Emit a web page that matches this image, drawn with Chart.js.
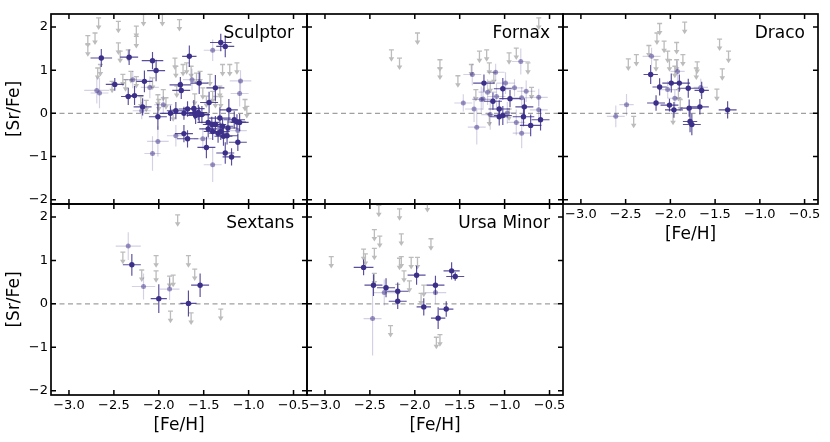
<!DOCTYPE html>
<html><head><meta charset="utf-8">
<script src="https://cdn.jsdelivr.net/npm/chart.js@4.4.1/dist/chart.umd.min.js"></script>
<style>
html,body{margin:0;padding:0;background:#fff;}
#wrap{position:relative;width:830px;height:442px;overflow:hidden;}
#wrap canvas{position:absolute;left:0;top:0;}
</style></head>
<body><div id="wrap"></div>
<script>
// ---------- data: [Fe/H], [Sr/Fe], xerr, yerr ----------
const sculptorDark = [
[-2.64,1.28,0.12,0.21],[-2.49,0.67,0.10,0.15],[-2.33,1.30,0.10,0.18],[-2.34,0.39,0.08,0.20],
[-2.27,0.41,0.10,0.22],[-2.18,0.15,0.10,0.20],[-2.16,0.74,0.09,0.25],[-2.07,1.22,0.12,0.20],
[-2.03,0.99,0.10,0.25],[-2.01,-0.08,0.10,0.30],[-1.87,0.00,0.12,0.18],[-1.81,0.06,0.10,0.20],
[-1.76,0.66,0.12,0.18],[-1.75,0.53,0.10,0.20],[-1.72,0.00,0.10,0.15],[-1.72,-0.47,0.10,0.20],
[-1.68,-0.59,0.12,0.20],[-1.68,0.10,0.10,0.18],[-1.66,1.32,0.08,0.25],[-1.61,0.11,0.12,0.20],
[-1.60,0.01,0.10,0.15],[-1.59,-0.05,0.10,0.20],[-1.55,0.70,0.10,0.25],[-1.55,-0.03,0.12,0.18],
[-1.52,-0.03,0.08,0.20],[-1.47,-0.79,0.10,0.25],[-1.45,-0.21,0.12,0.20],[-1.44,0.25,0.10,0.25],
[-1.45,-0.36,0.10,0.20],[-1.41,-0.26,0.10,0.18],[-1.37,0.59,0.10,0.30],[-1.37,-0.26,0.12,0.20],
[-1.34,-0.46,0.10,0.22],[-1.32,-0.11,0.12,0.25],[-1.31,-0.42,0.10,0.20],[-1.29,-0.30,0.12,0.18],
[-1.28,-0.53,0.10,0.22],[-1.26,-0.92,0.10,0.25],[-1.24,-0.52,0.12,0.20],[-1.22,0.08,0.10,0.25],
[-1.31,1.64,0.12,0.20],[-1.26,1.55,0.10,0.25],[-1.19,-1.01,0.10,0.20],[-1.16,-0.15,0.12,0.20],
[-1.13,-0.20,0.10,0.18],[-1.10,-0.21,0.10,0.20],[-1.12,-0.67,0.10,0.20],[-1.23,-0.34,0.10,0.18],
[-1.40,-0.42,0.10,0.20],[-1.56,0.02,0.10,0.18]
];
const sculptorLight = [
[-2.69,0.53,0.14,0.30],[-2.66,0.47,0.10,0.35],[-2.19,0.06,0.10,0.20],[-2.07,-0.93,0.09,0.40],
[-2.01,-0.65,0.12,0.35],[-1.81,-0.52,0.10,0.25],[-1.51,-0.59,0.10,0.25],[-1.40,-1.19,0.10,0.40],
[-1.40,1.46,0.10,0.25],[-1.10,0.46,0.10,0.30],[-1.09,0.75,0.12,0.25],[-1.12,-0.40,0.10,0.25],
[-2.29,0.78,0.10,0.20],[-1.63,0.78,0.10,0.25],[-2.10,0.60,0.10,0.25],[-1.95,0.20,0.10,0.20]
];
const sculptorLimits = [
[-2.67,2.21],[-2.71,1.86],[-2.79,1.80],[-2.79,1.59],[-2.45,2.13],[-2.45,1.63],[-2.43,1.44],
[-2.25,2.02],[-2.25,1.78],[-2.34,1.47],[-2.17,2.29],[-1.96,2.29],[-1.77,2.17],[-2.68,1.05],
[-2.65,1.13],[-2.52,0.74],[-2.37,0.78],[-2.31,0.97],[-2.25,0.85],[-2.07,0.82],[-2.01,0.43],
[-2.00,0.32],[-1.92,0.36],[-1.82,1.28],[-1.81,1.09],[-1.80,0.63],[-1.73,1.13],[-1.69,1.17],
[-1.64,1.09],[-1.58,0.93],[-1.54,0.97],[-1.51,0.59],[-1.43,0.90],[-1.40,0.51],[-1.37,0.39],
[-1.32,0.63],[-1.31,0.39],[-1.29,1.13],[-1.21,1.13],[-1.13,1.17],[-1.02,0.16],[-1.04,0.32],
[-1.84,0.08],[-2.20,0.39],[-2.14,0.30],[-2.40,0.90],[-1.95,0.55],[-1.60,0.45],[-1.47,0.40]
];
const fornaxDark = [
[-1.23,0.70,0.12,0.20],[-1.13,0.28,0.10,0.20],[-1.02,0.57,0.10,0.25],[-0.94,0.34,0.12,0.20],
[-1.06,0.10,0.12,0.20],[-1.02,-0.05,0.10,0.22],[-1.06,-0.08,0.10,0.20],[-0.78,0.15,0.10,0.20],
[-0.79,-0.08,0.12,0.22],[-0.71,-0.28,0.12,0.25],[-0.60,-0.15,0.10,0.25]
];
const fornaxLight = [
[-1.36,0.90,0.10,0.25],[-1.46,0.24,0.10,0.20],[-1.31,-0.32,0.10,0.40],[-1.34,0.10,0.10,0.30],
[-1.24,0.33,0.12,0.25],[-1.19,0.49,0.10,0.30],[-1.10,0.95,0.10,0.20],[-1.09,0.39,0.10,0.30],
[-1.16,-0.03,0.10,0.35],[-0.99,0.70,0.10,0.25],[-0.89,0.59,0.10,0.20],[-0.87,-0.21,0.10,0.30],
[-0.82,1.20,0.10,0.30],[-0.81,0.36,0.10,0.25],[-0.81,-0.46,0.10,0.35],[-0.76,0.51,0.10,0.25],
[-0.62,0.37,0.10,0.20],[-0.62,0.08,0.10,0.30],[-0.97,0.01,0.10,0.25],[-1.26,0.32,0.10,0.30]
];
const fornaxLimits = [
[-2.26,1.47],[-2.17,1.28],[-1.97,1.86],[-1.72,1.24],[-1.72,1.05],[-1.52,0.87],[-1.37,1.13],
[-1.32,0.55],[-1.28,1.44],[-1.20,1.47],[-1.17,1.17],[-1.16,0.74],[-1.12,0.95],[-0.95,1.40],
[-0.87,1.51],[-0.74,1.17],[-0.62,2.21],[-1.17,-0.03],[-0.95,0.10],[-0.70,0.60]
];
const dracoDark = [
[-2.22,0.90,0.08,0.22],[-2.12,0.61,0.08,0.20],[-2.16,0.24,0.10,0.18],[-2.01,0.19,0.10,0.15],
[-1.99,0.70,0.10,0.22],[-1.96,0.08,0.10,0.18],[-1.90,0.70,0.12,0.20],[-1.80,0.58,0.12,0.22],
[-1.79,0.12,0.10,0.20],[-1.65,0.53,0.08,0.20],[-1.67,0.15,0.10,0.18],[-1.78,-0.19,0.08,0.25],
[-1.76,-0.26,0.10,0.25],[-1.36,0.08,0.10,0.20]
];
const dracoLight = [
[-2.61,-0.07,0.10,0.25],[-2.49,0.20,0.08,0.25],[-2.21,1.32,0.10,0.20],[-2.03,0.55,0.10,0.20],
[-1.92,0.97,0.08,0.25],[-1.95,0.35,0.08,0.20],[-1.66,0.60,0.08,0.20]
];
const dracoLimits = [
[-2.12,2.08],[-2.15,1.86],[-1.84,2.11],[-2.24,1.57],[-2.07,1.67],[-1.93,1.64],[-2.47,1.26],
[-2.38,1.36],[-2.16,1.24],[-2.03,1.44],[-2.01,1.24],[-1.93,1.24],[-1.86,1.36],[-1.95,1.09],
[-1.70,1.19],[-1.71,1.05],[-1.45,1.72],[-1.35,1.44],[-1.42,1.03],[-1.48,0.56],[-1.91,0.55],
[-1.89,0.32],[-2.41,-0.07],[-1.97,0.00]
];
const sextansDark = [
[-2.30,0.90,0.10,0.25],[-2.00,0.12,0.09,0.33],[-1.67,0.01,0.09,0.30],[-1.54,0.43,0.10,0.27]
];
const sextansLight = [
[-2.34,1.33,0.14,0.32],[-2.17,0.40,0.13,0.30],[-1.88,0.34,0.11,0.25]
];
const sextansLimits = [
[-2.40,1.19],[-2.19,0.78],[-2.03,1.11],[-2.03,0.76],[-1.88,0.64],[-1.84,0.66],[-1.79,2.05],
[-1.67,1.11],[-1.60,0.80],[-1.87,-0.17],[-1.64,-0.21],[-1.31,-0.12]
];
const ursaMinorDark = [
[-2.57,0.84,0.11,0.18],[-2.46,0.43,0.10,0.25],[-2.32,0.37,0.10,0.22],[-2.19,0.29,0.12,0.20],
[-2.19,0.06,0.10,0.18],[-1.98,0.66,0.10,0.22],[-1.90,-0.07,0.08,0.20],[-1.77,0.43,0.10,0.22],
[-1.74,-0.33,0.08,0.25],[-1.65,-0.12,0.08,0.18],[-1.59,0.76,0.09,0.20],[-1.55,0.63,0.10,0.10]
];
const ursaMinorLight = [
[-2.47,-0.34,0.10,0.85],[-2.34,0.26,0.12,0.30],[-1.77,0.26,0.12,0.25]
];
const ursaMinorLimits = [
[-2.40,2.27],[-2.17,2.19],[-2.45,1.71],[-2.39,1.56],[-2.15,1.61],[-1.82,1.50],[-2.93,1.09],
[-2.57,1.26],[-2.55,1.15],[-2.45,1.28],[-2.17,1.05],[-2.15,1.09],[-2.04,1.07],[-1.97,1.07],
[-2.12,0.76],[-2.06,0.53],[-1.90,0.43],[-1.93,0.24],[-2.27,-0.50],[-1.76,-0.77],[-1.72,-0.71],
[-2.19,0.45],[-2.45,0.70],[-1.86,2.38]
];
const xTickValues = [-3.0,-2.5,-2.0,-1.5,-1.0,-0.5];
const yTickValues = [-2,-1,0,1,2];
const xRange = [-3.2,-0.35];
const yRange = [-2.1,2.3];

// ---------- styling / layout ----------
Chart.defaults.font.family = "'DejaVu Sans', sans-serif";
Chart.defaults.color = '#000';
const DARK = 'rgb(59,47,138)';
const DARK_BAR = 'rgba(59,47,138,0.85)';
const LIGHT = 'rgba(59,47,138,0.5)';
const LIGHT_BAR = 'rgba(59,47,138,0.22)';
const GREY = '#bcbcbc';
const WY = 51, HX = 43;

const panels = [
  {name:'Sculptor',   L:51,  T:14,  R:307, B:204, showX:false, showY:true,  d:[sculptorDark, sculptorLight, sculptorLimits]},
  {name:'Fornax',     L:307, T:14,  R:563, B:204, showX:false, showY:false, d:[fornaxDark, fornaxLight, fornaxLimits]},
  {name:'Draco',      L:563, T:14,  R:818, B:204, showX:true,  showY:false, d:[dracoDark, dracoLight, dracoLimits]},
  {name:'Sextans',    L:51,  T:204, R:307, B:395, showX:true,  showY:true,  d:[sextansDark, sextansLight, sextansLimits]},
  {name:'Ursa Minor', L:307, T:204, R:563, B:395, showX:true,  showY:false, d:[ursaMinorDark, ursaMinorLight, ursaMinorLimits]}
];

const panelPlugin = {
  id: 'panel',
  beforeDatasetsDraw(chart) {
    const {ctx, chartArea: a, scales: {y}} = chart;
    const y0 = y.getPixelForValue(0);
    ctx.save();
    ctx.strokeStyle = '#a0a0a0'; ctx.lineWidth = 1.3; ctx.setLineDash([5, 3.5]);
    ctx.beginPath(); ctx.moveTo(a.left, y0); ctx.lineTo(a.right, y0); ctx.stroke();
    ctx.restore();
  },
  beforeDatasetDraw(chart, args) {
    const ds = chart.data.datasets[args.index];
    const {ctx, chartArea: a, scales: {x, y}} = chart;
    ctx.save();
    ctx.beginPath(); ctx.rect(a.left, a.top, a.right - a.left, a.bottom - a.top); ctx.clip();
    if (ds.kind === 'limit') {
      ctx.strokeStyle = GREY; ctx.fillStyle = GREY; ctx.lineWidth = 1.3;
      ds.data.forEach(p => {
        const px = x.getPixelForValue(p.x), py = y.getPixelForValue(p.y);
        const L = 12;
        ctx.beginPath();
        ctx.moveTo(px - 2.5, py); ctx.lineTo(px + 2.5, py);
        ctx.moveTo(px, py); ctx.lineTo(px, py + L - 3);
        ctx.stroke();
        ctx.beginPath();
        ctx.moveTo(px - 2.8, py + L - 4.5); ctx.lineTo(px + 2.8, py + L - 4.5); ctx.lineTo(px, py + L);
        ctx.closePath(); ctx.fill();
      });
    } else {
      ctx.strokeStyle = ds.barColor; ctx.lineWidth = 1.15;
      ds.data.forEach((p, i) => {
        const px = x.getPixelForValue(p.x), py = y.getPixelForValue(p.y);
        const x1 = x.getPixelForValue(p.x - ds.xerr[i]), x2 = x.getPixelForValue(p.x + ds.xerr[i]);
        const y1 = y.getPixelForValue(p.y - ds.yerr[i]), y2 = y.getPixelForValue(p.y + ds.yerr[i]);
        ctx.beginPath();
        ctx.moveTo(x1, py); ctx.lineTo(x2, py);
        ctx.moveTo(px, y1); ctx.lineTo(px, y2);
        ctx.stroke();
      });
    }
    ctx.restore();
  },
  afterDraw(chart, args, opts) {
    const {ctx, chartArea: a, scales: {x, y}} = chart;
    ctx.save();
    ctx.strokeStyle = '#000'; ctx.lineWidth = 1.5;
    ctx.beginPath();
    xTickValues.forEach(v => {
      const px = x.getPixelForValue(v);
      ctx.moveTo(px, a.top); ctx.lineTo(px, a.top + 5);
      ctx.moveTo(px, a.bottom); ctx.lineTo(px, a.bottom - 5);
    });
    yTickValues.forEach(v => {
      const py = y.getPixelForValue(v);
      ctx.moveTo(a.left, py); ctx.lineTo(a.left + 5, py);
      ctx.moveTo(a.right, py); ctx.lineTo(a.right - 5, py);
    });
    ctx.stroke();
    ctx.lineWidth = 1.7;
    ctx.strokeRect(a.left, a.top, a.right - a.left, a.bottom - a.top);
    ctx.fillStyle = '#000';
    ctx.font = "17px 'DejaVu Sans'";
    ctx.textAlign = 'right'; ctx.textBaseline = 'alphabetic';
    ctx.fillText(opts.name, a.right - 13, a.top + 24);
    ctx.restore();
  }
};

const wrap = document.getElementById('wrap');
const toPts = arr => arr.map(d => ({x: d[0], y: d[1]}));
const minus = s => String(s).replace('-', '\u2212');

panels.forEach(p => {
  const cv = document.createElement('canvas');
  cv.width = 830; cv.height = 442;
  cv.style.width = '830px'; cv.style.height = '442px';
  wrap.appendChild(cv);
  const [dark, light, lim] = p.d;
  new Chart(cv, {
    type: 'scatter',
    data: {datasets: [
      {kind: 'dark', data: toPts(dark), xerr: dark.map(d => d[2]), yerr: dark.map(d => d[3]),
       barColor: DARK_BAR, pointRadius: 2.7, backgroundColor: DARK, borderWidth: 0, pointHoverRadius: 2.7},
      {kind: 'light', data: toPts(light), xerr: light.map(d => d[2]), yerr: light.map(d => d[3]),
       barColor: LIGHT_BAR, pointRadius: 2.5, backgroundColor: LIGHT, borderWidth: 0, pointHoverRadius: 2.5},
      {kind: 'limit', data: toPts(lim), pointRadius: 0, pointHoverRadius: 0}
    ]},
    options: {
      responsive: false, animation: false, events: [],
      devicePixelRatio: 1,
      layout: {padding: {
        left: p.L - (p.showY ? WY : 0), right: 830 - p.R,
        top: p.T, bottom: 442 - p.B - (p.showX ? HX : 0)}},
      plugins: {legend: {display: false}, tooltip: {enabled: false}, panel: {name: p.name}},
      scales: {
        x: {
          type: 'linear', min: xRange[0], max: xRange[1], display: p.showX,
          afterFit: s => { s.height = p.showX ? HX : 0; },
          afterBuildTicks: s => { s.ticks = xTickValues.map(v => ({value: v})); },
          grid: {display: false, drawTicks: false}, border: {display: false},
          ticks: {padding: 3, font: {size: 13}, color: '#000', maxRotation: 0, autoSkip: false,
                  callback: v => minus(Number(v).toFixed(1))},
          title: {display: true, text: '[Fe/H]', font: {size: 17}, color: '#000', padding: {top: 0, bottom: 2}}
        },
        y: {
          type: 'linear', min: yRange[0], max: yRange[1], display: p.showY,
          afterFit: s => { s.width = p.showY ? WY : 0; },
          afterBuildTicks: s => { s.ticks = yTickValues.map(v => ({value: v})); },
          grid: {display: false, drawTicks: false}, border: {display: false},
          ticks: {padding: 3, font: {size: 13}, color: '#000', autoSkip: false,
                  callback: v => minus(v)},
          title: {display: true, text: '[Sr/Fe]', font: {size: 17}, color: '#000', padding: {top: 4, bottom: 0}}
        }
      }
    },
    plugins: [panelPlugin]
  });
});
</script>
</body></html>
